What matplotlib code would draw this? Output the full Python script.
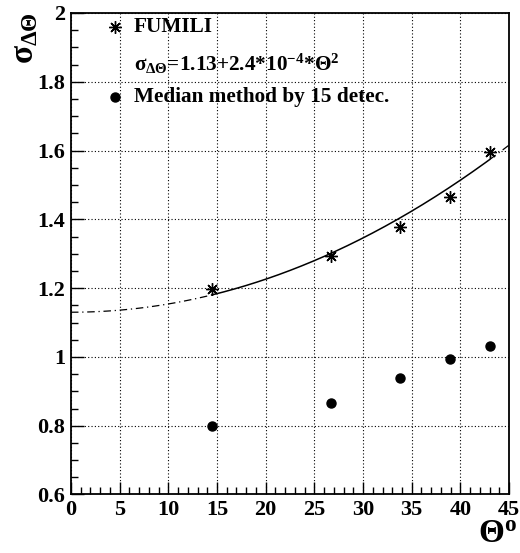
import numpy as np
import matplotlib
matplotlib.use("Agg")
import matplotlib.pyplot as plt
from matplotlib.ticker import MultipleLocator

plt.rcParams['font.family'] = ['Liberation Serif', 'DejaVu Serif']
plt.rcParams['font.weight'] = 'bold'
plt.rcParams['mathtext.fontset'] = 'custom'
plt.rcParams['mathtext.rm'] = 'Liberation Serif:bold'
plt.rcParams['mathtext.it'] = 'Liberation Serif:bold'
plt.rcParams['mathtext.bf'] = 'Liberation Serif:bold'

# FUMILI fit results
theta_fumili = [14.5, 26.7, 33.8, 38.9, 43.0]
sigma_fumili = [1.198, 1.292, 1.377, 1.466, 1.595]

# median method over 15 detectors
theta_median = [14.5, 26.7, 33.8, 38.9, 43.0]
sigma_median = [0.800, 0.865, 0.939, 0.995, 1.032]

# parametrisation sigma = a + b * theta^2
fit_a = 1.13
fit_b = 2.4e-4
fit_lo, fit_hi = 14.5, 43.0

fig = plt.figure(figsize=(5.2, 5.53), dpi=100)
ax = fig.add_axes([0.1365, 0.1058, 0.8425, 0.8707])

ax.set_xlim(0, 45)
ax.set_ylim(0.6, 2.0)

star = (8, 2, 0)

# fitted curve: solid over the data range, dash-dot outside
t_in = np.linspace(fit_lo, fit_hi, 200)
t_left = np.linspace(0, fit_lo, 100)
t_right = np.linspace(fit_hi, 45, 30)
f = lambda t: fit_a + fit_b * t ** 2
ax.plot(t_in, f(t_in), color='black', lw=1.1, zorder=3)
ax.plot(t_left, f(t_left), color='black', lw=0.9, dashes=(6, 3, 1, 3), zorder=3)
ax.plot(t_right, f(t_right), color='black', lw=0.9, dashes=(6, 3, 1, 3), zorder=3)

ax.plot(theta_fumili, sigma_fumili, linestyle='none', marker=star,
        markersize=9, markeredgewidth=1.0, color='black', zorder=4)
ax.plot(theta_median, sigma_median, linestyle='none', marker='o',
        markersize=6.5, color='black', zorder=4)

# axes styling
ax.xaxis.set_major_locator(MultipleLocator(5))
ax.xaxis.set_minor_locator(MultipleLocator(1))
ax.yaxis.set_major_locator(MultipleLocator(0.2))
ax.yaxis.set_minor_locator(MultipleLocator(0.05))
ax.tick_params(which='both', direction='in', top=False, right=False,
               labelsize=16, width=1.0)
ax.tick_params(which='major', length=9)
ax.tick_params(which='minor', length=5)
ax.tick_params(axis='x', pad=4)
ax.tick_params(axis='y', pad=4)
ax.set_yticks([0.6, 0.8, 1.0, 1.2, 1.4, 1.6, 1.8, 2.0])
ax.set_yticklabels(['0.6', '0.8', '1', '1.2', '1.4', '1.6', '1.8', '2'])
for lab in ax.get_xticklabels() + ax.get_yticklabels():
    lab.set_fontweight('bold')
ax.grid(True, which='major', color='black', linestyle=(0, (1, 2)), lw=0.8)
for s in ax.spines.values():
    s.set_linewidth(1.3)

fig.text(0.048, 0.978, r'$\sigma_{\Delta\Theta}$', rotation=90,
         ha='center', va='top', fontsize=24)
fig.text(0.995, 0.005, r'$\Theta^{o}$', ha='right', va='bottom', fontsize=24)

# legend entries
def fx(px):
    return px / 520.0

def fy(py):
    return 1 - py / 553.0

fig.lines.append(plt.Line2D([fx(115)], [fy(27)], transform=fig.transFigure,
                            marker=star, markersize=9, markeredgewidth=1.0,
                            color='black', linestyle='none'))
fig.lines.append(plt.Line2D([fx(115)], [fy(97)], transform=fig.transFigure,
                            marker='o', markersize=6.5, color='black',
                            linestyle='none'))
fig.text(fx(134), fy(27), 'FUMILI', ha='left', va='center', fontsize=15.3)
fig.text(fx(134), fy(64),
         r'$\sigma_{\Delta\Theta}$=1.13+2.4*10$^{-4}$*$\Theta^{2}$',
         ha='left', va='center', fontsize=15.3)
fig.text(fx(134), fy(97), 'Median method by 15 detec.', ha='left',
         va='center', fontsize=15.3)

fig.savefig('out.png', dpi=100)
